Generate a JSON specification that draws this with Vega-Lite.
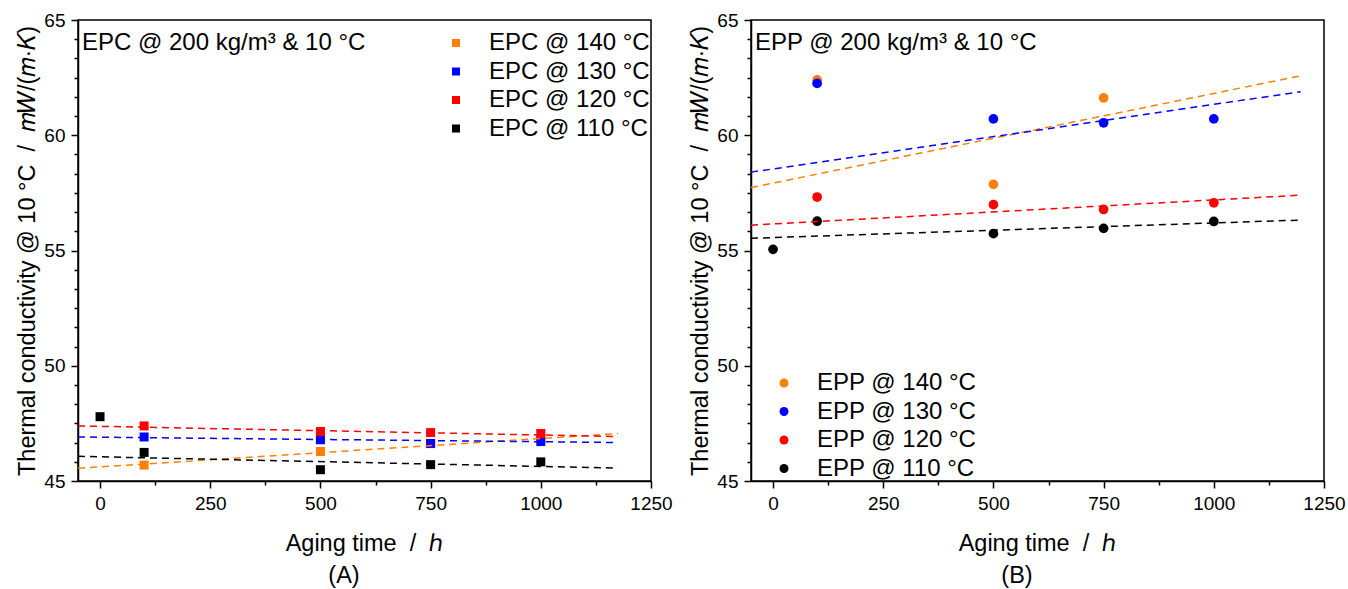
{
  "$schema": "https://vega.github.io/schema/vega-lite/v6.json",
  "padding": {"left": 15, "top": 10, "right": 0, "bottom": 0},
  "config": {
    "font": "Liberation Sans",
    "view": {"stroke": "#000000", "strokeWidth": 1.5},
    "axis": {
      "grid": false,
      "domainColor": "#000000",
      "domainWidth": 1.5,
      "tickColor": "#000000",
      "tickWidth": 1.5,
      "labelColor": "#000000",
      "titleColor": "#000000",
      "labelFont": "Liberation Sans",
      "titleFont": "Liberation Sans",
      "labelFontSize": 19,
      "titleFontSize": 23.5,
      "titleFontWeight": "normal",
      "labelFlush": false,
      "labelOverlap": false
    },
    "legend": {
      "labelFont": "Liberation Sans",
      "labelFontSize": 24,
      "labelColor": "#000000",
      "labelLimit": 400
    },
    "title": {"font": "Liberation Sans", "fontSize": 23.5, "fontWeight": "normal", "color": "#000000"}
  },
  "datasets": {
    "epcPoints": [
      {"series": "EPC @ 140 °C", "t": 100, "k": 45.69},
      {"series": "EPC @ 140 °C", "t": 500, "k": 46.28},
      {"series": "EPC @ 140 °C", "t": 750, "k": 46.62},
      {"series": "EPC @ 140 °C", "t": 1000, "k": 46.85},
      {"series": "EPC @ 130 °C", "t": 100, "k": 46.91},
      {"series": "EPC @ 130 °C", "t": 500, "k": 46.79},
      {"series": "EPC @ 130 °C", "t": 750, "k": 46.63},
      {"series": "EPC @ 130 °C", "t": 1000, "k": 46.71},
      {"series": "EPC @ 120 °C", "t": 100, "k": 47.39},
      {"series": "EPC @ 120 °C", "t": 500, "k": 47.15},
      {"series": "EPC @ 120 °C", "t": 750, "k": 47.1},
      {"series": "EPC @ 120 °C", "t": 1000, "k": 47.06},
      {"series": "EPC @ 110 °C", "t": 0, "k": 47.79},
      {"series": "EPC @ 110 °C", "t": 100, "k": 46.24},
      {"series": "EPC @ 110 °C", "t": 500, "k": 45.49},
      {"series": "EPC @ 110 °C", "t": 750, "k": 45.71},
      {"series": "EPC @ 110 °C", "t": 1000, "k": 45.83}
    ],
    "epcFits": [
      {"series": "EPC @ 140 °C", "t": -50, "k": 45.55},
      {"series": "EPC @ 140 °C", "t": 1175, "k": 47.06},
      {"series": "EPC @ 130 °C", "t": -50, "k": 46.91},
      {"series": "EPC @ 130 °C", "t": 1175, "k": 46.67},
      {"series": "EPC @ 120 °C", "t": -50, "k": 47.39},
      {"series": "EPC @ 120 °C", "t": 1175, "k": 46.93},
      {"series": "EPC @ 110 °C", "t": -50, "k": 46.07},
      {"series": "EPC @ 110 °C", "t": 1175, "k": 45.56}
    ],
    "eppPoints": [
      {"series": "EPP @ 140 °C", "t": 100, "k": 62.4},
      {"series": "EPP @ 140 °C", "t": 500, "k": 57.87},
      {"series": "EPP @ 140 °C", "t": 750, "k": 61.62},
      {"series": "EPP @ 130 °C", "t": 100, "k": 62.25},
      {"series": "EPP @ 130 °C", "t": 500, "k": 60.71},
      {"series": "EPP @ 130 °C", "t": 750, "k": 60.54},
      {"series": "EPP @ 130 °C", "t": 1000, "k": 60.71},
      {"series": "EPP @ 120 °C", "t": 100, "k": 57.32},
      {"series": "EPP @ 120 °C", "t": 500, "k": 56.99},
      {"series": "EPP @ 120 °C", "t": 750, "k": 56.78},
      {"series": "EPP @ 120 °C", "t": 1000, "k": 57.07},
      {"series": "EPP @ 110 °C", "t": 0, "k": 55.05},
      {"series": "EPP @ 110 °C", "t": 100, "k": 56.27},
      {"series": "EPP @ 110 °C", "t": 500, "k": 55.73},
      {"series": "EPP @ 110 °C", "t": 750, "k": 55.96},
      {"series": "EPP @ 110 °C", "t": 1000, "k": 56.26}
    ],
    "eppFits": [
      {"series": "EPP @ 140 °C", "t": -50, "k": 57.73},
      {"series": "EPP @ 140 °C", "t": 1197, "k": 62.58},
      {"series": "EPP @ 130 °C", "t": -50, "k": 58.4},
      {"series": "EPP @ 130 °C", "t": 1197, "k": 61.89},
      {"series": "EPP @ 120 °C", "t": -50, "k": 56.1},
      {"series": "EPP @ 120 °C", "t": 1197, "k": 57.4},
      {"series": "EPP @ 110 °C", "t": -50, "k": 55.53},
      {"series": "EPP @ 110 °C", "t": 1197, "k": 56.32}
    ]
  },
  "spacing": 15,
  "resolve": {"scale": {"color": "independent"}},
  "hconcat": [
    {
      "width": 573,
      "height": 461,
      "title": {"text": "(A)", "orient": "bottom", "anchor": "middle", "frame": "bounds", "offset": 9},
      "resolve": {"axis": {"y": "independent"}},
      "layer": [
        {
          "data": {"name": "epcPoints"},
          "mark": {"type": "square", "size": 81, "filled": true, "opacity": 1},
          "encoding": {
            "x": {
              "field": "t", "type": "quantitative",
              "scale": {"domain": [-50, 1250], "nice": false, "zero": false},
              "axis": {
                "title": "Aging time \u00a0/\u00a0 ℎ",
                "values": [0, 125, 250, 375, 500, 625, 750, 875, 1000, 1125, 1250],
                "format": "d",
                "labelExpr": "datum.value % 250 === 0 ? datum.label : ''",
                "tickSize": {"condition": {"test": "datum.value % 250 === 0", "value": 7}, "value": 4},
                "labelOverlap": false,
                "labelPadding": 6,
                "titlePadding": 18
              }
            },
            "y": {
              "field": "k", "type": "quantitative",
              "scale": {"domain": [45, 65], "nice": false, "zero": false},
              "axis": {
                "orient": "left",
                "title": "Thermal conductivity @ 10 °C \u00a0/\u00a0 𝑚𝑊/(𝑚·𝐾)",
                "values": [45, 50, 55, 60, 65],
                "format": "d",
                "tickSize": 7,
                "labelOverlap": false,
                "labelPadding": 6,
                "titlePadding": 4
              }
            },
            "color": {
              "field": "series", "type": "nominal",
              "scale": {"domain": ["EPC @ 140 °C", "EPC @ 130 °C", "EPC @ 120 °C", "EPC @ 110 °C"], "range": ["#ff8000", "#0000ff", "#ff0000", "#000000"]},
              "legend": {"title": null, "orient": "none", "legendX": 366, "legendY": 11, "padding": 0, "symbolType": "square", "symbolSize": 64, "symbolStrokeWidth": 0, "symbolDash": [], "labelOffset": 21, "rowPadding": 4.5}
            }
          }
        },
        {
          "data": {"name": "epcFits"},
          "mark": {"type": "line", "strokeDash": [7, 5], "strokeWidth": 1.5},
          "encoding": {
            "x": {"field": "t", "type": "quantitative"},
            "y": {
              "field": "k", "type": "quantitative",
              "axis": {
                "orient": "left",
                "title": null,
                "values": [45.8333, 46.6667, 47.5, 48.3333, 49.1667, 50.8333, 51.6667, 52.5, 53.3333, 54.1667, 55.8333, 56.6667, 57.5, 58.3333, 59.1667, 60.8333, 61.6667, 62.5, 63.3333, 64.1667],
                "labels": false,
                "domain": false,
                "tickSize": 4
              }
            },
            "color": {
              "field": "series", "type": "nominal",
              "legend": {"title": null, "orient": "none", "legendX": 366, "legendY": 11, "padding": 0, "symbolType": "square", "symbolSize": 64, "symbolStrokeWidth": 0, "symbolDash": [], "labelOffset": 21, "rowPadding": 4.5}
            }
          }
        },
        {
          "data": {"values": [{"label": "EPC @ 200 kg/m³ & 10 °C"}]},
          "mark": {"type": "text", "align": "left", "baseline": "alphabetic", "fontSize": 24, "color": "#000000"},
          "encoding": {
            "x": {"datum": -41},
            "y": {"datum": 63.7, "axis": null},
            "text": {"field": "label"}
          }
        }
      ]
    },
    {
      "width": 573,
      "height": 461,
      "title": {"text": "(B)", "orient": "bottom", "anchor": "middle", "frame": "bounds", "offset": 9},
      "resolve": {"axis": {"y": "independent"}},
      "layer": [
        {
          "data": {"name": "eppPoints"},
          "mark": {"type": "circle", "size": 95, "opacity": 1},
          "encoding": {
            "x": {
              "field": "t", "type": "quantitative",
              "scale": {"domain": [-50, 1250], "nice": false, "zero": false},
              "axis": {
                "title": "Aging time \u00a0/\u00a0 ℎ",
                "values": [0, 125, 250, 375, 500, 625, 750, 875, 1000, 1125, 1250],
                "format": "d",
                "labelExpr": "datum.value % 250 === 0 ? datum.label : ''",
                "tickSize": {"condition": {"test": "datum.value % 250 === 0", "value": 7}, "value": 4},
                "labelOverlap": false,
                "labelPadding": 6,
                "titlePadding": 18
              }
            },
            "y": {
              "field": "k", "type": "quantitative",
              "scale": {"domain": [45, 65], "nice": false, "zero": false},
              "axis": {
                "orient": "left",
                "title": "Thermal conductivity @ 10 °C \u00a0/\u00a0 𝑚𝑊/(𝑚·𝐾)",
                "values": [45, 50, 55, 60, 65],
                "format": "d",
                "tickSize": 7,
                "labelOverlap": false,
                "labelPadding": 6,
                "titlePadding": 4
              }
            },
            "color": {
              "field": "series", "type": "nominal",
              "scale": {"domain": ["EPP @ 140 °C", "EPP @ 130 °C", "EPP @ 120 °C", "EPP @ 110 °C"], "range": ["#ff8000", "#0000ff", "#ff0000", "#000000"]},
              "legend": {"title": null, "orient": "none", "legendX": 2, "legendY": 351, "padding": 0, "symbolType": "circle", "symbolSize": 80, "symbolStrokeWidth": 0, "symbolDash": [], "symbolOffset": 19, "labelOffset": 21, "rowPadding": 4.5}
            }
          }
        },
        {
          "data": {"name": "eppFits"},
          "mark": {"type": "line", "strokeDash": [7, 5], "strokeWidth": 1.5},
          "encoding": {
            "x": {"field": "t", "type": "quantitative"},
            "y": {
              "field": "k", "type": "quantitative",
              "axis": {
                "orient": "left",
                "title": null,
                "values": [45.8333, 46.6667, 47.5, 48.3333, 49.1667, 50.8333, 51.6667, 52.5, 53.3333, 54.1667, 55.8333, 56.6667, 57.5, 58.3333, 59.1667, 60.8333, 61.6667, 62.5, 63.3333, 64.1667],
                "labels": false,
                "domain": false,
                "tickSize": 4
              }
            },
            "color": {
              "field": "series", "type": "nominal",
              "legend": {"title": null, "orient": "none", "legendX": 2, "legendY": 351, "padding": 0, "symbolType": "circle", "symbolSize": 80, "symbolStrokeWidth": 0, "symbolDash": [], "symbolOffset": 19, "labelOffset": 21, "rowPadding": 4.5}
            }
          }
        },
        {
          "data": {"values": [{"label": "EPP @ 200 kg/m³ & 10 °C"}]},
          "mark": {"type": "text", "align": "left", "baseline": "alphabetic", "fontSize": 24, "color": "#000000"},
          "encoding": {
            "x": {"datum": -41},
            "y": {"datum": 63.7, "axis": null},
            "text": {"field": "label"}
          }
        }
      ]
    }
  ]
}
